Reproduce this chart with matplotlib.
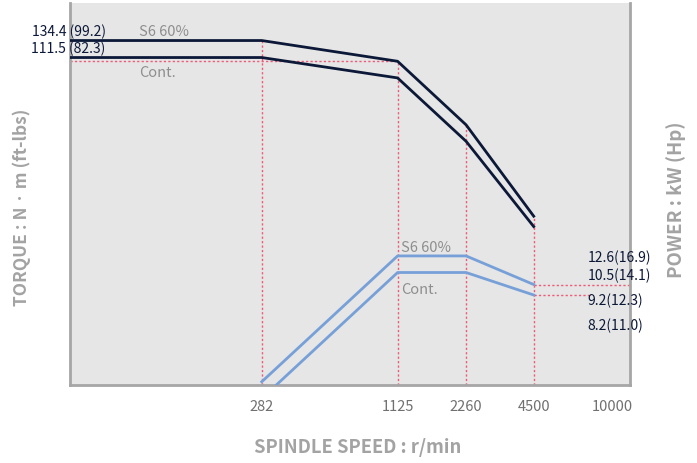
"""Spindle torque / power chart (log-log)."""

import matplotlib
matplotlib.use('Agg')
import matplotlib.pyplot as plt
from matplotlib.ticker import FixedLocator, NullLocator, FixedFormatter

plt.rcParams['font.family'] = ['Noto Sans CJK KR', 'DejaVu Sans']

# speeds (r/min)
torque_speed = [40, 282, 1125, 2260, 4500]
power_speed = [282, 1125, 2260, 4500]

# torque (N.m)
torque_s6 = [134.4, 134.4, 107, 53.2, 19.5]
torque_cont = [111.5, 111.5, 89.1, 44.4, 17.4]

# power (kW)
power_s6 = [3.16, 12.6, 12.6, 9.2]
power_cont = [2.63, 10.5, 10.5, 8.2]

tick_speeds = [282, 1125, 2260, 4500, 10000]
tick_labels = ['282', '1125', '2260', '4500', '10000']

NAVY = '#0c1838'
BLUE = '#77a0d8'
RED = '#f05a76'
GREY = '#8e8e8e'
LABEL = '#a3a3a3'

fig = plt.figure(figsize=(6.97, 4.64), dpi=100)
ax = fig.add_axes([70 / 697, 78 / 464, 560 / 697, 382 / 464])
ax.set_facecolor('#e6e6e6')
ax.set_xscale('log')
ax.set_yscale('log')
ax.set_xlim(40, 12000)
ax.set_ylim(3.05, 203)

# guide lines
dots = dict(color=RED, lw=1.0, ls=(0, (1.6, 1.6)), zorder=1)
ymin = ax.get_ylim()[0]
for sp, tq in zip(torque_speed[1:], torque_s6[1:]):
    ax.plot([sp, sp], [ymin, tq], **dots)
ax.plot([40, 1125], [torque_s6[2], torque_s6[2]], **dots)
ax.plot([4500, 12000], [power_s6[-1], power_s6[-1]], **dots)
ax.plot([4500, 8000], [power_cont[-1], power_cont[-1]], **dots)

ax.plot(torque_speed, torque_s6, color=NAVY, lw=2.0, zorder=3)
ax.plot(torque_speed, torque_cont, color=NAVY, lw=2.0, zorder=3)
ax.plot(power_speed, power_s6, color=BLUE, lw=2.0, zorder=3)
ax.plot(power_speed, power_cont, color=BLUE, lw=2.0, zorder=3)

# curve labels
ax.text(80.5, 149, 'S6 60%', color=GREY, fontsize=10.5, va='center')
ax.text(80.5, 95, 'Cont.', color=GREY, fontsize=10.5, va='center')
ax.text(1161, 13.9, 'S6 60%', color=GREY, fontsize=10.5, va='center')
ax.text(1161, 8.75, 'Cont.', color=GREY, fontsize=10.5, va='center')

# value labels
ax.text(57.5, 149, '134.4 (99.2)', color=NAVY, fontsize=10, ha='right', va='center',
        clip_on=False)
ax.text(57.5, 123.8, '111.5 (82.3)', color=NAVY, fontsize=10, ha='right', va='center',
        clip_on=False)
for yv, txt in zip([12.45, 10.2, 7.76, 5.9],
                   ['12.6(16.9)', '10.5(14.1)', '9.2(12.3)', '8.2(11.0)']):
    ax.text(7807, yv, txt, color=NAVY, fontsize=10, va='center', clip_on=False)

ax.xaxis.set_major_locator(FixedLocator(tick_speeds))
ax.xaxis.set_major_formatter(FixedFormatter(tick_labels))
ax.xaxis.set_minor_locator(NullLocator())
ax.yaxis.set_major_locator(NullLocator())
ax.yaxis.set_minor_locator(NullLocator())
ax.tick_params(axis='x', length=0, pad=10, labelsize=10.5, labelcolor='#707070')

for side in ['left', 'bottom', 'right']:
    ax.spines[side].set_color('#a6a6a6')
    ax.spines[side].set_linewidth(2)
ax.spines['top'].set_visible(False)

fig.text(358 / 697, 1 - 448 / 464, 'SPINDLE SPEED : r/min', color=LABEL, fontsize=13.3,
         fontweight='bold', ha='center', va='center')
fig.text(22 / 697, 1 - 207 / 464, 'TORQUE : N \u00b7 m (ft-lbs)', color=LABEL, fontsize=12.5,
         fontweight='bold', ha='center', va='center', rotation=90)
fig.text(676 / 697, 1 - 200 / 464, 'POWER : kW (Hp)', color=LABEL, fontsize=13.5,
         fontweight='bold', ha='center', va='center', rotation=90)

fig.savefig('out.png', dpi=100)
